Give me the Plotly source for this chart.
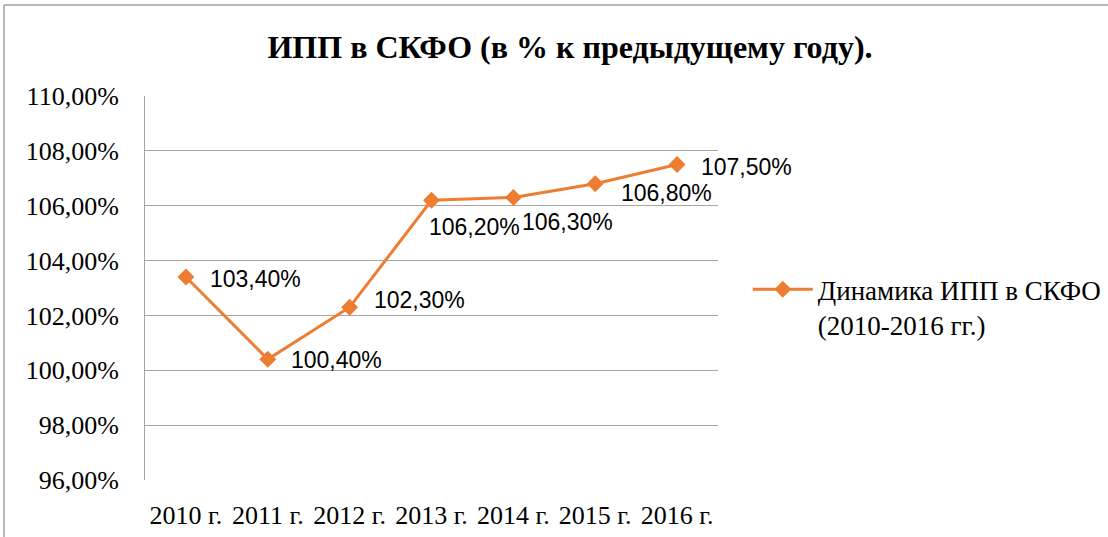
import plotly.graph_objects as go

# данные ИПП в СКФО
years = ['2010 г.', '2011 г.', '2012 г.', '2013 г.', '2014 г.', '2015 г.', '2016 г.']
ipp = [103.4, 100.4, 102.3, 106.2, 106.3, 106.8, 107.5]
ipp_labels = ['103,40%', '100,40%', '102,30%', '106,20%', '106,30%', '106,80%', '107,50%']
y_ticks = [96, 98, 100, 102, 104, 106, 108, 110]
y_tick_labels = ['96,00%', '98,00%', '100,00%', '102,00%', '104,00%', '106,00%', '108,00%', '110,00%']

# сдвиги подписей данных относительно точек (px)
label_dx = [22, 21, 22, -5, 7, 24, 22]
label_dy = [-2, -1, 7, -27, -25, -9, -2]

orange = '#ED7D31'
grid = '#a6a6a6'
serif = 'Liberation Serif'

fig = go.Figure()
fig.add_trace(go.Scatter(
    x=years, y=ipp,
    mode='lines+markers',
    name='Динамика ИПП в СКФО<br>(2010-2016 гг.)',
    line=dict(color=orange, width=3),
    marker=dict(symbol='diamond', size=13, color=orange),
    cliponaxis=False,
))

for yr, v, lab, dx, dy in zip(years, ipp, ipp_labels, label_dx, label_dy):
    fig.add_annotation(x=yr, y=v, text=lab, showarrow=False,
                       xanchor='left', yanchor='middle', xshift=dx, yshift=dy,
                       font=dict(family='Liberation Sans', size=23, color='#000000'))

fig.update_layout(
    width=1108, height=537,
    margin=dict(l=145, r=390, t=96, b=57, autoexpand=False),
    paper_bgcolor='white', plot_bgcolor='white',
    title=dict(text='<b>ИПП в СКФО (в % к предыдущему году).</b>',
               x=570 / 1108, xanchor='center', y=1 - 47 / 537, yanchor='middle',
               font=dict(family=serif, size=32, color='#000000')),
    showlegend=True,
    legend=dict(x=1.052, y=0.45, xanchor='left', yanchor='middle', valign='top',
                font=dict(family=serif, size=27, color='#000000'),
                bgcolor='rgba(0,0,0,0)', itemwidth=60),
)
fig.update_xaxes(
    range=[-0.5, len(years) - 0.5],
    showgrid=False, showline=False, ticks='',
    tickangle=0, automargin=False,
    tickfont=dict(family=serif, size=26, color='#000000'),
    ticklabelstandoff=17,
)
fig.update_yaxes(
    range=[96, 110], tickvals=y_ticks, ticktext=y_tick_labels,
    showgrid=True, gridcolor=grid, gridwidth=1,
    showline=True, linecolor=grid, linewidth=1,
    zeroline=False, ticks='', automargin=False,
    tickfont=dict(family=serif, size=26, color='#000000'),
    ticklabelstandoff=20,
)

# рамка области диаграммы
fig.add_shape(type='line', xref='paper', yref='paper',
              x0=(4 - 145) / 573, x1=(4 - 145) / 573, y0=-0.3, y1=(480 - 5) / 384,
              line=dict(color='#a0a0a0', width=1.5))
fig.add_shape(type='line', xref='paper', yref='paper',
              x0=(4 - 145) / 573, x1=1.8, y0=(480 - 5) / 384, y1=(480 - 5) / 384,
              line=dict(color='#a0a0a0', width=1.5))

fig.write_html('out.html', config={'displayModeBar': False},
               post_script="document.body.style.margin='0';")
